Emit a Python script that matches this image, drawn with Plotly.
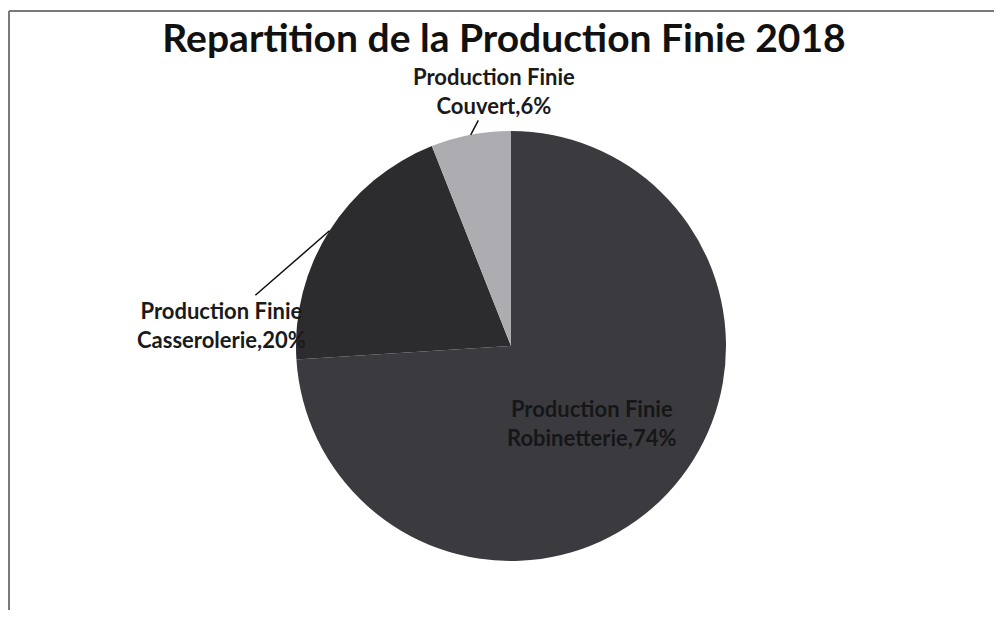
import math
import plotly.graph_objects as go

# data
categories = ["Production Finie Robinetterie", "Production Finie Casserolerie", "Production Finie Couvert"]
short_names = ["Robinetterie", "Casserolerie", "Couvert"]
shares = [74, 20, 6]
slice_colors = ["#3b3b3f", "#2c2c2f", "#adadb1"]

# the page body keeps its default 8px margin, so the figure starts at (8, 8)
OFF = 8
W, H = 1002 - 2 * OFF, 618 - 2 * OFF
cx, cy, r = 511 - OFF, 346 - OFF, 215  # pie centre / radius in figure pixels

dom_x = [(cx - r) / W, (cx + r) / W]
dom_y = [(H - cy - r) / H, (H - cy + r) / H]

fig = go.Figure(go.Pie(
    labels=categories,
    values=shares,
    sort=False,
    direction="clockwise",
    rotation=0,
    marker=dict(colors=slice_colors, line=dict(width=0)),
    textinfo="none",
    hoverinfo="label+percent",
    showlegend=False,
    domain=dict(x=dom_x, y=dom_y),
))


def mid_point(i, frac=1.0):
    """paper coords of the point on the bisector of slice i, at frac*radius"""
    total = sum(shares)
    start = sum(shares[:i]) / total
    mid = (start + shares[i] / total / 2) * 2 * math.pi
    px = cx + frac * r * math.sin(mid)
    py = cy - frac * r * math.cos(mid)
    return px / W, 1 - py / H


lab_font = dict(family="Lato", size=22, color="#1a1a1a")

# Robinetterie - inside label
x0, y0 = mid_point(0, 0.52)
fig.add_annotation(x=x0, y=y0, xref="paper", yref="paper",
                   xanchor="center", yanchor="middle",
                   text=f"<b>Production Finie<br>{short_names[0]},{shares[0]}%</b>",
                   showarrow=False, font=dict(family="Lato", size=22, color="#161618"))

# Casserolerie - outside label with leader
x1, y1 = mid_point(1)
fig.add_annotation(x=x1, y=y1, xref="paper", yref="paper",
                   text=f"<b>Production Finie<br>{short_names[1]},{shares[1]}%</b>",
                   showarrow=True, arrowhead=0, arrowwidth=1.5, arrowcolor="#111",
                   ax=-108, ay=94, standoff=0, font=lab_font)

# Couvert - outside label with leader
x2, y2 = mid_point(2)
fig.add_annotation(x=x2, y=y2, xref="paper", yref="paper",
                   text=f"<b>Production Finie<br>{short_names[2]},{shares[2]}%</b>",
                   showarrow=True, arrowhead=0, arrowwidth=1.5, arrowcolor="#111",
                   ax=23, ay=-44, standoff=0, font=lab_font)

# chart frame (top and left edges visible in the reference)
frame = dict(type="line", xref="paper", yref="paper", line=dict(color="#7a7a7a", width=2))
top = 1 - (11 - OFF) / H
fig.add_shape(**frame, x0=1 / W, x1=1.0, y0=top, y1=top)
fig.add_shape(**frame, x0=1 / W, x1=1 / W, y0=0, y1=top)

fig.update_layout(
    width=W, height=H,
    title=dict(text="<b>Repartition de la Production Finie 2018</b>",
               x=(504 - OFF) / W, xanchor="center", y=1 - (38 - OFF) / H, yanchor="middle",
               font=dict(family="Lato", size=39, color="#111")),
    margin=dict(l=0, r=0, t=0, b=0),
    paper_bgcolor="white",
    plot_bgcolor="white",
)

fig.write_html("out.html")
